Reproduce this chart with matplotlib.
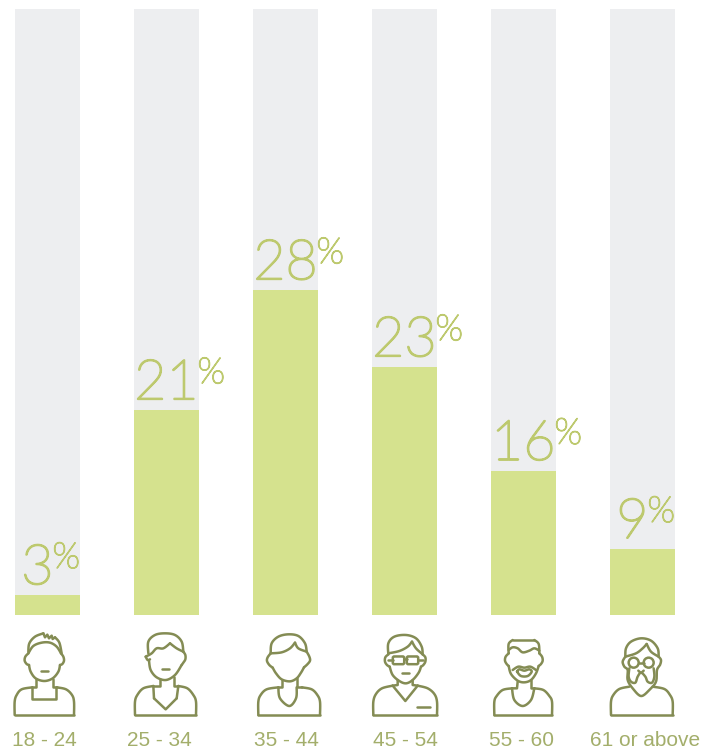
import numpy as np
import matplotlib
matplotlib.use('Agg')
import matplotlib.pyplot as plt
import matplotlib.patheffects as pe
from matplotlib.patches import Circle, FancyBboxPatch

# Data
categories = ['18 - 24', '25 - 34', '35 - 44', '45 - 54', '55 - 60', '61 or above']
percent_labels = [3, 21, 28, 23, 16, 9]
# bar heights are not proportional to the labels in the original, read off as % of the track
bar_heights = [3.3, 33.8, 53.6, 40.9, 23.8, 10.9]
track_height = 100

BAR = '#d5e28e'
TRACK = '#edeef0'
PCT = '#bdc96e'
LABEL = '#a3ae6b'
ICON = '#848c54'
LW = 1.8

fig = plt.figure(figsize=(7.16, 7.51), dpi=100)
ax = fig.add_axes([0, 0, 1, 1])
ax.set_xlim(-47.5 / 119, (716 - 47.5) / 119)
ax.set_ylim(-(751 - 615) / 6.06, track_height + 9 / 6.06)
ax.axis('off')

x = np.arange(len(categories))
ax.bar(x, [track_height] * len(x), width=65 / 119, color=TRACK)
ax.bar(x, bar_heights, width=65 / 119, color=BAR)

PX = 0.72  # one pixel in points
label_nudge = [-3.5, -7, 0.5, 0.5, -2, 2.5]
for i, (h, p) in enumerate(zip(bar_heights, percent_labels)):
    digits = str(p)
    right = 6 + 26 * (len(digits) - 1)
    ax.annotate(digits, (i, h), xytext=(right * PX, 11 * PX), textcoords='offset points',
                ha='right', va='baseline', fontsize=40, color=PCT,
                family='Lato', fontweight='light',
                path_effects=[pe.withStroke(linewidth=1.4, foreground=PCT)])
    ax.annotate('%', (i, h), xytext=((right - 1) * PX, 27 * PX), textcoords='offset points',
                ha='left', va='baseline', fontsize=26, color=PCT,
                family='Lato', fontweight='light',
                path_effects=[pe.withStroke(linewidth=1.0, foreground=PCT)])
    ax.annotate(categories[i], (i, 0), xytext=(label_nudge[i] * PX, -131.5 * PX),
                textcoords='offset points', ha='center', va='baseline', fontsize=15,
                color=LABEL, family='Liberation Sans')

# Icons, drawn on a pixel overlay
over = fig.add_axes([0, 0, 1, 1])
over.set_xlim(0, 716)
over.set_ylim(751, 0)
over.axis('off')
over.patch.set_alpha(0)


def smooth(pts):
    p = np.array(pts, dtype=float)
    if len(p) < 3:
        return p
    p = np.vstack([p[0], p, p[-1]])
    out = []
    t = np.linspace(0, 1, 12)[:, None]
    for a, b, c, d in zip(p[:-3], p[1:-2], p[2:-1], p[3:]):
        out.append(0.5 * (2 * b + (c - a) * t + (2 * a - 5 * b + 4 * c - d) * t ** 2
                          + (3 * b - a - 3 * c + d) * t ** 3))
    return np.vstack(out)


def draw(parts, ox, straight=()):
    for pts in parts:
        q = smooth(pts)
        over.plot(ox + q[:, 0] / 3, 620 + q[:, 1] / 3, color=ICON, lw=LW,
                  solid_capstyle='round', solid_joinstyle='round')
    for pts in straight:
        q = np.array(pts, dtype=float)
        over.plot(ox + q[:, 0] / 3, 620 + q[:, 1] / 3, color=ICON, lw=LW,
                  solid_capstyle='round', solid_joinstyle='round')


# 18 - 24
draw([[(44, 285), (44, 245), (50, 225), (65, 208), (97, 202)],
      [(222, 285), (222, 245), (216, 225), (198, 208), (170, 202)],
      [(85, 100), (76, 110), (74, 122), (80, 132), (87, 135)],
      [(87, 135), (92, 155), (107, 175), (133, 183), (158, 175), (175, 155), (180, 135)],
      [(180, 135), (187, 132), (192, 122), (190, 110), (183, 100)],
      [(85, 100), (100, 78), (125, 68), (150, 68), (170, 80), (183, 100)],
      [(85, 95), (88, 70), (105, 50), (130, 40)],
      [(165, 52), (178, 68), (185, 100)]], 0,
     [[(44, 285), (222, 285)], [(97, 202), (97, 237), (168, 237), (168, 202)],
      [(107, 178), (107, 202), (97, 202)], [(158, 178), (158, 202), (170, 202)],
      [(130, 40), (135, 52), (142, 44), (147, 55), (155, 47), (158, 57), (165, 52)],
      [(122, 153), (144, 153)]])
# 25 - 34
draw([[(445, 100), (445, 65), (465, 45), (495, 40), (525, 45), (545, 65), (550, 95)],
      [(437, 110), (455, 100), (470, 85), (490, 85), (510, 70)],
      [(510, 70), (530, 85), (550, 95)],
      [(437, 110), (443, 120), (450, 118)],
      [(447, 122), (452, 150), (470, 172), (498, 180), (525, 165), (545, 135)],
      [(550, 95), (556, 105), (556, 118), (550, 128), (545, 135)],
      [(405, 285), (405, 245), (412, 225), (430, 205), (460, 198)],
      [(588, 285), (588, 245), (580, 225), (562, 205), (535, 198)],
      [(460, 198), (462, 235)], [(530, 235), (535, 198)]], 0,
     [[(405, 285), (588, 285)], [(487, 148), (508, 148)],
      [(480, 178), (480, 198), (460, 198)], [(523, 170), (523, 198), (535, 198)],
      [(462, 235), (497, 268), (530, 235)]])
# 35 - 44
draw([[(812, 100), (815, 70), (835, 50), (865, 43), (895, 48), (915, 70), (920, 95)],
      [(812, 100), (845, 97), (870, 85), (885, 68)], [(885, 68), (895, 85), (920, 95)],
      [(812, 100), (803, 112), (801, 123), (808, 135), (818, 143)],
      [(920, 95), (928, 110), (930, 122), (922, 133), (912, 142)],
      [(818, 143), (828, 160), (845, 178), (870, 184), (890, 175), (903, 158), (912, 142)],
      [(775, 285), (775, 245), (782, 225), (800, 208), (835, 202)],
      [(960, 285), (960, 245), (952, 225), (935, 208), (905, 202)],
      [(835, 202), (840, 235), (868, 258), (888, 235), (890, 202)]], 0,
     [[(775, 285), (960, 285)], [(847, 180), (847, 202), (835, 202)],
      [(890, 175), (890, 202), (905, 202)]])
# 45 - 54
draw([[(97, 103), (97, 70), (115, 50), (150, 45), (180, 55), (197, 80), (200, 103)],
      [(97, 100), (130, 93), (155, 80), (168, 65)], [(168, 65), (180, 85), (200, 103)],
      [(97, 103), (88, 112), (87, 125), (93, 135), (101, 140)],
      [(200, 103), (208, 112), (208, 125), (202, 135), (195, 140)],
      [(101, 140), (110, 165), (130, 183), (150, 190), (170, 180), (188, 158), (195, 140)],
      [(52, 285), (52, 245), (60, 222), (78, 205), (110, 197)],
      [(243, 285), (243, 245), (235, 222), (215, 205), (185, 197)]], 356,
     [[(52, 285), (243, 285)], [(145, 118), (152, 118)],
      [(97, 120), (110, 120)], [(187, 120), (200, 120)], [(137, 160), (158, 160)],
      [(125, 180), (125, 195), (110, 197)], [(170, 180), (170, 195), (185, 197)],
      [(110, 197), (148, 243), (185, 197)], [(182, 261), (222, 261)]])
for gx in (114, 156):
    over.add_patch(FancyBboxPatch((356 + gx / 3, 620 + 113 / 3), 27 / 3, 16 / 3,
                                  boxstyle='round,pad=1.2,rounding_size=1.5',
                                  fill=False, ec=ICON, lw=LW))
# 55 - 60
draw([[(458, 100), (458, 72), (470, 60)], [(535, 60), (548, 72), (550, 100)],
      [(458, 90), (470, 82), (485, 85), (500, 97), (520, 92), (535, 85), (550, 92)],
      [(458, 100), (449, 110), (447, 122), (452, 132), (458, 138)],
      [(550, 100), (558, 110), (560, 122), (555, 132), (548, 138)],
      [(458, 138), (465, 162), (485, 182), (505, 187), (525, 180), (540, 160), (548, 138)],
      [(470, 150), (487, 140), (505, 143), (523, 140), (540, 150)],
      [(483, 155), (490, 148), (505, 152), (520, 148), (527, 155), (515, 168), (495, 168),
       (483, 155)],
      [(415, 285), (415, 245), (422, 228), (440, 210), (468, 205)],
      [(588, 285), (588, 245), (580, 228), (562, 210), (535, 205)],
      [(468, 205), (475, 240), (500, 258), (525, 240), (535, 205)]], 356,
     [[(415, 285), (588, 285)], [(470, 60), (535, 60)],
      [(485, 185), (483, 205), (468, 205)], [(525, 180), (525, 205), (535, 205)]])
# 61 or above
draw([[(808, 110), (810, 85), (825, 65), (855, 55), (885, 62), (905, 85), (908, 110)],
      [(808, 110), (840, 100), (860, 85), (872, 72)], [(872, 72), (885, 95), (908, 110)],
      [(808, 110), (800, 125), (805, 140), (815, 150), (815, 180), (830, 205), (855, 228),
       (880, 210), (900, 185), (903, 150), (912, 135), (915, 120), (908, 110)],
      [(820, 145), (818, 170), (825, 185), (838, 188), (845, 170), (855, 158), (868, 170),
       (875, 185), (888, 188), (895, 170), (893, 145)],
      [(847, 152), (855, 158), (863, 152)],
      [(765, 285), (765, 245), (772, 225), (790, 207), (820, 200)],
      [(950, 285), (950, 245), (942, 225), (925, 207), (890, 200)]], 356,
     [[(765, 285), (950, 285)], [(848, 128), (863, 128)]])
for cx in (833, 878):
    over.add_patch(Circle((356 + cx / 3, 620 + 128 / 3), 15 / 3, fill=False, ec=ICON, lw=LW))

fig.savefig('out.png', dpi=100)
